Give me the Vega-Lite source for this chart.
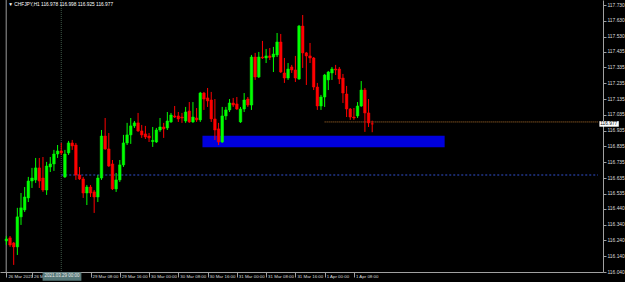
{
  "$schema": "https://vega.github.io/schema/vega-lite/v6.json",
  "width": 603,
  "height": 272,
  "autosize": {"type": "none"},
  "padding": {"left": 0, "top": 0, "right": 22, "bottom": 10},
  "background": "#000000",
  "config": {"view": {"stroke": null}, "axis": {"grid": false, "labelFont": "Liberation Sans", "labelOverlap": false, "labelFlush": false, "labelColor": "#dddddd", "tickColor": "#a0a0a0", "domainColor": "#a0a0a0"}},
  "datasets": {
    "candles": [
      {"i":0,"o":116.237,"h":116.268,"l":116.211,"c":116.249},
      {"i":1,"o":116.256,"h":116.268,"l":116.199,"c":116.211},
      {"i":2,"o":116.224,"h":116.230,"l":116.085,"c":116.199},
      {"i":3,"o":116.199,"h":116.446,"l":116.148,"c":116.389},
      {"i":4,"o":116.389,"h":116.540,"l":116.338,"c":116.446},
      {"i":5,"o":116.433,"h":116.578,"l":116.420,"c":116.515},
      {"i":6,"o":116.509,"h":116.642,"l":116.483,"c":116.616},
      {"i":7,"o":116.616,"h":116.699,"l":116.572,"c":116.635},
      {"i":8,"o":116.623,"h":116.762,"l":116.604,"c":116.699},
      {"i":9,"o":116.699,"h":116.762,"l":116.572,"c":116.616},
      {"i":10,"o":116.635,"h":116.768,"l":116.547,"c":116.559},
      {"i":11,"o":116.559,"h":116.737,"l":116.528,"c":116.711},
      {"i":12,"o":116.705,"h":116.768,"l":116.673,"c":116.724},
      {"i":13,"o":116.724,"h":116.813,"l":116.680,"c":116.787},
      {"i":14,"o":116.787,"h":116.844,"l":116.762,"c":116.806},
      {"i":15,"o":116.806,"h":116.857,"l":116.781,"c":116.794},
      {"i":16,"o":116.642,"h":116.813,"l":116.635,"c":116.787},
      {"i":17,"o":116.794,"h":116.870,"l":116.781,"c":116.857},
      {"i":18,"o":116.857,"h":116.876,"l":116.813,"c":116.838},
      {"i":19,"o":116.844,"h":116.857,"l":116.623,"c":116.654},
      {"i":20,"o":116.654,"h":116.705,"l":116.623,"c":116.629},
      {"i":21,"o":116.629,"h":116.642,"l":116.509,"c":116.540},
      {"i":22,"o":116.540,"h":116.591,"l":116.464,"c":116.578},
      {"i":23,"o":116.578,"h":116.591,"l":116.515,"c":116.540},
      {"i":24,"o":116.547,"h":116.559,"l":116.414,"c":116.515},
      {"i":25,"o":116.515,"h":116.654,"l":116.483,"c":116.635},
      {"i":26,"o":116.635,"h":116.939,"l":116.623,"c":116.901},
      {"i":27,"o":116.901,"h":117.015,"l":116.813,"c":116.819},
      {"i":28,"o":116.819,"h":116.920,"l":116.705,"c":116.711},
      {"i":29,"o":116.724,"h":116.749,"l":116.559,"c":116.566},
      {"i":30,"o":116.566,"h":116.667,"l":116.547,"c":116.623},
      {"i":31,"o":116.623,"h":116.749,"l":116.610,"c":116.718},
      {"i":32,"o":116.718,"h":116.908,"l":116.705,"c":116.857},
      {"i":33,"o":116.857,"h":116.984,"l":116.844,"c":116.908},
      {"i":34,"o":116.908,"h":117.015,"l":116.851,"c":116.965},
      {"i":35,"o":116.965,"h":116.996,"l":116.952,"c":116.984},
      {"i":36,"o":116.984,"h":117.047,"l":116.927,"c":116.933},
      {"i":37,"o":116.933,"h":116.971,"l":116.889,"c":116.908},
      {"i":38,"o":116.914,"h":116.965,"l":116.882,"c":116.895},
      {"i":39,"o":116.901,"h":116.920,"l":116.863,"c":116.889},
      {"i":40,"o":116.866,"h":116.958,"l":116.832,"c":116.873},
      {"i":41,"o":116.863,"h":116.952,"l":116.857,"c":116.939},
      {"i":42,"o":116.939,"h":117.015,"l":116.927,"c":116.958},
      {"i":43,"o":116.958,"h":116.984,"l":116.889,"c":116.946},
      {"i":44,"o":116.952,"h":117.053,"l":116.939,"c":116.996},
      {"i":45,"o":116.990,"h":117.047,"l":116.984,"c":117.034},
      {"i":46,"o":117.028,"h":117.091,"l":117.015,"c":117.021},
      {"i":47,"o":117.028,"h":117.053,"l":116.990,"c":117.009},
      {"i":48,"o":117.021,"h":117.047,"l":116.984,"c":117.015},
      {"i":49,"o":116.996,"h":117.085,"l":116.984,"c":117.053},
      {"i":50,"o":117.059,"h":117.116,"l":116.984,"c":116.990},
      {"i":51,"o":116.990,"h":117.116,"l":116.984,"c":117.021},
      {"i":52,"o":117.015,"h":117.078,"l":116.990,"c":117.003},
      {"i":53,"o":117.003,"h":117.180,"l":116.990,"c":117.173},
      {"i":54,"o":117.173,"h":117.180,"l":117.066,"c":117.135},
      {"i":55,"o":117.142,"h":117.205,"l":117.085,"c":117.123},
      {"i":56,"o":117.129,"h":117.180,"l":116.990,"c":117.009},
      {"i":57,"o":117.009,"h":117.135,"l":116.876,"c":116.939},
      {"i":58,"o":116.946,"h":116.984,"l":116.844,"c":116.863},
      {"i":59,"o":116.863,"h":117.085,"l":116.857,"c":117.028},
      {"i":60,"o":117.028,"h":117.085,"l":117.003,"c":117.066},
      {"i":61,"o":117.066,"h":117.135,"l":117.053,"c":117.110},
      {"i":62,"o":117.110,"h":117.142,"l":117.085,"c":117.097},
      {"i":63,"o":117.104,"h":117.148,"l":117.066,"c":117.072},
      {"i":64,"o":116.990,"h":117.085,"l":116.984,"c":117.072},
      {"i":65,"o":117.072,"h":117.173,"l":117.053,"c":117.129},
      {"i":66,"o":117.135,"h":117.148,"l":117.085,"c":117.097},
      {"i":67,"o":117.097,"h":117.414,"l":117.066,"c":117.401},
      {"i":68,"o":117.401,"h":117.427,"l":117.256,"c":117.275},
      {"i":69,"o":117.275,"h":117.433,"l":117.268,"c":117.401},
      {"i":70,"o":117.401,"h":117.503,"l":117.389,"c":117.395},
      {"i":71,"o":117.395,"h":117.452,"l":117.363,"c":117.408},
      {"i":72,"o":117.408,"h":117.458,"l":117.382,"c":117.398},
      {"i":73,"o":117.401,"h":117.465,"l":117.306,"c":117.420},
      {"i":74,"o":117.414,"h":117.553,"l":117.401,"c":117.496},
      {"i":75,"o":117.496,"h":117.547,"l":117.300,"c":117.306},
      {"i":76,"o":117.300,"h":117.395,"l":117.237,"c":117.268},
      {"i":77,"o":117.268,"h":117.363,"l":117.256,"c":117.325},
      {"i":78,"o":117.338,"h":117.351,"l":117.300,"c":117.319},
      {"i":79,"o":117.319,"h":117.408,"l":117.243,"c":117.268},
      {"i":80,"o":117.262,"h":117.604,"l":117.256,"c":117.597},
      {"i":81,"o":117.597,"h":117.667,"l":117.332,"c":117.427},
      {"i":82,"o":117.427,"h":117.433,"l":117.224,"c":117.408},
      {"i":83,"o":117.408,"h":117.490,"l":117.363,"c":117.395},
      {"i":84,"o":117.395,"h":117.401,"l":117.192,"c":117.211},
      {"i":85,"o":117.211,"h":117.237,"l":117.066,"c":117.091},
      {"i":86,"o":117.091,"h":117.161,"l":117.066,"c":117.148},
      {"i":87,"o":117.148,"h":117.294,"l":117.085,"c":117.287},
      {"i":88,"o":117.256,"h":117.313,"l":117.192,"c":117.306},
      {"i":89,"o":117.300,"h":117.338,"l":117.256,"c":117.325},
      {"i":90,"o":117.325,"h":117.351,"l":117.287,"c":117.319},
      {"i":91,"o":117.325,"h":117.338,"l":117.230,"c":117.262},
      {"i":92,"o":117.268,"h":117.294,"l":117.110,"c":117.173},
      {"i":93,"o":117.167,"h":117.218,"l":117.021,"c":117.072},
      {"i":94,"o":117.072,"h":117.078,"l":117.003,"c":117.021},
      {"i":95,"o":117.021,"h":117.078,"l":117.003,"c":117.015},
      {"i":96,"o":117.028,"h":117.116,"l":117.015,"c":117.091},
      {"i":97,"o":117.091,"h":117.249,"l":117.085,"c":117.192},
      {"i":98,"o":117.192,"h":117.205,"l":116.927,"c":117.047},
      {"i":99,"o":117.047,"h":117.135,"l":116.958,"c":116.984},
      {"i":100,"o":116.978,"h":116.998,"l":116.925,"c":116.977}
    ],
    "zone": [{"start":53.6,"end":119.8,"top":116.903,"bottom":116.830}],
    "crossV": [{"i":15}],
    "crossH": [{"from":15,"to":161.72,"p":116.654}],
    "bid": [{"from":87,"to":161.72,"p":116.99}],
    "leftLine": [{"i":-0.05}]
  },
  "layer": [
    {
      "data": {"name": "zone"},
      "mark": {"type": "rect", "color": "#0000dd"},
      "encoding": {
        "x": {"field": "start", "type": "quantitative", "title": null, "scale": {"domain": [-0.376, 161.72], "nice": false, "zero": false},
          "axis": {"orient": "bottom", "title": null, "tickCount": 40,
            "values": [0, 7, 23, 31, 39, 47, 55, 63, 71, 79, 87, 95],
            "labelExpr": "['26 Mar 2021','26 Mar 16:00','29 Mar 08:00','29 Mar 16:00','30 Mar 00:00','30 Mar 08:00','30 Mar 16:00','31 Mar 00:00','31 Mar 08:00','31 Mar 16:00','1 Apr 00:00','1 Apr 08:00'][indexof([0,7,23,31,39,47,55,63,71,79,87,95], datum.value)]",
            "labelAlign": "left", "labelBaseline": "top", "labelOffset": 1.5, "labelPadding": -2.5,
            "labelFontSize": 4.4, "labelOverlap": false, "labelFlush": false,
            "tickSize": 5, "domainWidth": 1}},
        "x2": {"field": "end"},
        "y": {"field": "top", "type": "quantitative", "title": null, "scale": {"domain": [116.04, 117.762], "nice": false, "zero": false},
          "axis": {"orient": "right", "title": null, "tickCount": 40,
            "values": [117.73, 117.63, 117.53, 117.435, 117.335, 117.235, 117.135, 117.035, 116.935, 116.835, 116.735, 116.635, 116.535, 116.44, 116.34, 116.24, 116.14, 116.04],
            "format": ".3f", "labelAlign": "left", "labelBaseline": "middle", "labelPadding": 1,
            "labelFontSize": 4.9, "labelOverlap": false, "labelFlush": false,
            "tickSize": 3, "domainWidth": 1}},
        "y2": {"field": "bottom"}
      }
    },
    {
      "data": {"name": "leftLine"},
      "mark": {"type": "rule", "color": "#9a9a9a", "strokeWidth": 1},
      "encoding": {
        "x": {"field": "i", "type": "quantitative", "title": null, "scale": {"domain": [-0.376, 161.72], "nice": false, "zero": false}}
      }
    },
    {
      "data": {"name": "crossV"},
      "mark": {"type": "rule", "color": "#3f5a4a", "strokeWidth": 1, "strokeDash": [1, 1]},
      "encoding": {
        "x": {"field": "i", "type": "quantitative", "title": null, "scale": {"domain": [-0.376, 161.72], "nice": false, "zero": false}}
      }
    },
    {
      "data": {"name": "crossH"},
      "mark": {"type": "rule", "color": "#3050d0", "strokeWidth": 1, "strokeDash": [2, 2]},
      "encoding": {
        "x": {"field": "from", "type": "quantitative", "title": null, "scale": {"domain": [-0.376, 161.72], "nice": false, "zero": false}},
        "x2": {"field": "to"},
        "y": {"field": "p", "type": "quantitative", "title": null, "scale": {"domain": [116.04, 117.762], "nice": false, "zero": false}}
      }
    },
    {
      "data": {"name": "bid"},
      "mark": {"type": "rule", "color": "#b8762e", "strokeWidth": 1, "strokeDash": [1, 1]},
      "encoding": {
        "x": {"field": "from", "type": "quantitative", "title": null, "scale": {"domain": [-0.376, 161.72], "nice": false, "zero": false}},
        "x2": {"field": "to"},
        "y": {"field": "p", "type": "quantitative", "title": null, "scale": {"domain": [116.04, 117.762], "nice": false, "zero": false}}
      }
    },
    {
      "data": {"name": "candles"},
      "mark": {"type": "rule", "strokeWidth": 1},
      "encoding": {
        "x": {"field": "i", "type": "quantitative", "title": null, "scale": {"domain": [-0.376, 161.72], "nice": false, "zero": false}},
        "y": {"field": "l", "type": "quantitative", "title": null, "scale": {"domain": [116.04, 117.762], "nice": false, "zero": false}},
        "y2": {"field": "h"},
        "color": {"condition": {"test": "datum.c >= datum.o", "value": "#00ff00"}, "value": "#ff0000"}
      }
    },
    {
      "data": {"name": "candles"},
      "mark": {"type": "bar", "size": 2.6, "strokeWidth": 0.5},
      "encoding": {
        "x": {"field": "i", "type": "quantitative", "title": null, "scale": {"domain": [-0.376, 161.72], "nice": false, "zero": false}},
        "y": {"field": "o", "type": "quantitative", "title": null, "scale": {"domain": [116.04, 117.762], "nice": false, "zero": false}},
        "y2": {"field": "c"},
        "color": {"condition": {"test": "datum.c >= datum.o", "value": "#00ff00"}, "value": "#ff0000"},
        "stroke": {"condition": {"test": "datum.c >= datum.o", "value": "#00ff00"}, "value": "#ff0000"}
      }
    },
    {
      "data": {"values": [{"t": "▼ CHFJPY,H1  116.978 116.998 116.925 116.977"}]},
      "mark": {"type": "text", "align": "left", "baseline": "middle", "fontSize": 4.8, "font": "Liberation Sans", "color": "#ffffff"},
      "encoding": {
        "x": {"datum": 0.5, "type": "quantitative", "title": null, "scale": {"domain": [-0.376, 161.72], "nice": false, "zero": false}},
        "y": {"datum": 117.732, "type": "quantitative", "title": null, "scale": {"domain": [116.04, 117.762], "nice": false, "zero": false}},
        "text": {"field": "t"}
      }
    },
    {
      "data": {"values": [{"t": "116.977"}]},
      "mark": {"type": "rect", "color": "#ffffff"},
      "encoding": {
        "x": {"datum": 162.1, "type": "quantitative", "title": null, "scale": {"domain": [-0.376, 161.72], "nice": false, "zero": false}},
        "x2": {"datum": 167.4},
        "y": {"datum": 116.995, "type": "quantitative", "title": null, "scale": {"domain": [116.04, 117.762], "nice": false, "zero": false}},
        "y2": {"datum": 116.960}
      }
    },
    {
      "data": {"values": [{"t": "116.977"}]},
      "mark": {"type": "text", "align": "left", "baseline": "middle", "fontSize": 4.8, "font": "Liberation Sans", "color": "#000000"},
      "encoding": {
        "x": {"datum": 162.35, "type": "quantitative", "title": null, "scale": {"domain": [-0.376, 161.72], "nice": false, "zero": false}},
        "y": {"datum": 116.977, "type": "quantitative", "title": null, "scale": {"domain": [116.04, 117.762], "nice": false, "zero": false}},
        "text": {"field": "t"}
      }
    },
    {
      "data": {"values": [{"t": "2021.03.29 00:00"}]},
      "mark": {"type": "rect", "color": "#567878"},
      "encoding": {
        "x": {"datum": 9.9, "type": "quantitative", "title": null, "scale": {"domain": [-0.376, 161.72], "nice": false, "zero": false}},
        "x2": {"datum": 20.5},
        "y": {"datum": 116.038, "type": "quantitative", "title": null, "scale": {"domain": [116.04, 117.762], "nice": false, "zero": false}},
        "y2": {"datum": 115.985}
      }
    },
    {
      "data": {"values": [{"t": "2021.03.29 00:00"}]},
      "mark": {"type": "text", "align": "center", "baseline": "middle", "fontSize": 4.5, "font": "Liberation Sans", "color": "#e8e8e8"},
      "encoding": {
        "x": {"datum": 15.2, "type": "quantitative", "title": null, "scale": {"domain": [-0.376, 161.72], "nice": false, "zero": false}},
        "y": {"datum": 116.013, "type": "quantitative", "title": null, "scale": {"domain": [116.04, 117.762], "nice": false, "zero": false}},
        "text": {"field": "t"}
      }
    }
  ]
}
